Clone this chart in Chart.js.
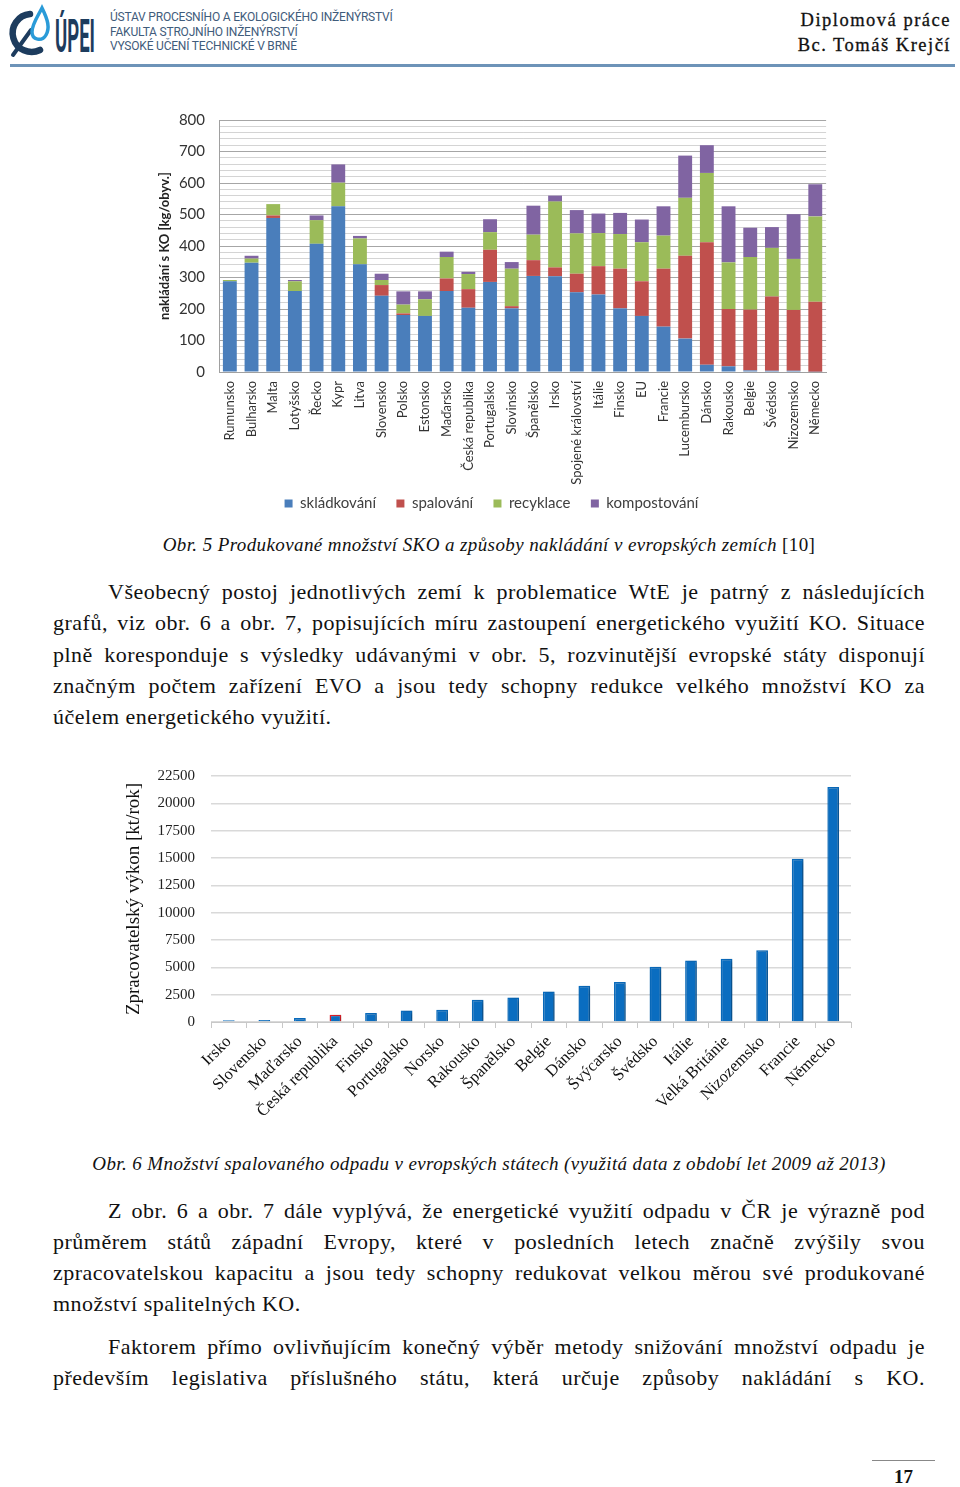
<!DOCTYPE html>
<html lang="cs">
<head>
<meta charset="utf-8">
<title>Diplomová práce – str. 17</title>
<script src="https://cdn.jsdelivr.net/npm/chart.js@4.4.1/dist/chart.umd.min.js"></script>
<style>
  html, body { margin: 0; padding: 0; background: #fff; }
  body { width: 960px; height: 1487px; position: relative; overflow: hidden; font-family: 'Liberation Serif', serif; color: #111; }
  .abs { position: absolute; }
  .hdr-l { left: 110px; font-family: 'Roboto', sans-serif; font-size: 12px; color: #3f5c7b; letter-spacing: -0.2px; line-height: 14px; }
  .hdr-r { right: 9px; font-size: 18.5px; letter-spacing: 1.5px; text-align: right; line-height: 22px; -webkit-text-stroke: 0.3px #111; }
  .line { left: 53px; width: 872px; height: 32px; line-height: 32px; font-size: 22px; letter-spacing: 0.5px; white-space: nowrap; text-align: justify; text-align-last: justify; }
  .line.ind { left: 108px; width: 817px; }
  .line.last { text-align: left; text-align-last: left; }
  .cap { left: 0; width: 978px; text-align: center; font-size: 19px; letter-spacing: 0.4px; font-style: italic; line-height: 22px; white-space: nowrap; }
  .cap span { font-style: normal; }
</style>
</head>
<body>

<!-- header -->
<svg class="abs" style="left:0;top:0" width="100" height="64">
  <path d="M30 14 A19 19 0 1 0 40 50" fill="none" stroke="#1d3c5e" stroke-width="6.5" stroke-linecap="round"/>
  <path d="M13 55 L31 30" fill="none" stroke="#1d3c5e" stroke-width="4" stroke-linecap="round"/>
  <path d="M42 8 C48 20 50 28 46 35 C42 42 32 40 32 32 C32 24 38 16 42 8 Z" fill="none" stroke="#2a9bd8" stroke-width="3.5"/>
  <text x="55" y="52" font-family="Roboto" font-weight="700" font-size="46" fill="#1d3c5e" textLength="40" lengthAdjust="spacingAndGlyphs">ÚPEI</text>
</svg>
<div class="abs hdr-l" style="top:10px">ÚSTAV PROCESNÍHO A EKOLOGICKÉHO INŽENÝRSTVÍ</div>
<div class="abs hdr-l" style="top:25px">FAKULTA STROJNÍHO INŽENÝRSTVÍ</div>
<div class="abs hdr-l" style="top:39px">VYSOKÉ UČENÍ TECHNICKÉ V BRNĚ</div>
<div class="abs hdr-r" style="top:9px">Diplomová práce</div>
<div class="abs hdr-r" style="top:34px">Bc. Tomáš Krejčí</div>
<div class="abs" style="left:10px;top:64px;width:945px;height:3px;background:#6d93b8"></div>

<!-- chart 1 -->
<div class="abs" style="left:150px;top:97px;width:690px;height:424px">
  <canvas id="chart1"></canvas>
</div>
<div class="abs cap" style="top:534px">Obr. 5 Produkované množství SKO a způsoby nakládání v evropských zemích <span>[10]</span></div>

<div class="abs line ind" style="top:576px">Všeobecný postoj jednotlivých zemí k problematice WtE je patrný z následujících</div>
<div class="abs line" style="top:607px">grafů, viz obr. 6 a obr. 7, popisujících míru zastoupení energetického využití KO. Situace</div>
<div class="abs line" style="top:639px">plně koresponduje s výsledky udávanými v obr. 5, rozvinutější evropské státy disponují</div>
<div class="abs line" style="top:670px">značným počtem zařízení EVO a jsou tedy schopny redukce velkého množství KO za</div>
<div class="abs line last" style="top:701px">účelem energetického využití.</div>

<!-- chart 2 -->
<div class="abs" style="left:110px;top:751px;width:760px;height:389px">
  <canvas id="chart2"></canvas>
</div>
<div class="abs cap" style="top:1153px">Obr. 6 Množství spalovaného odpadu v evropských státech (využitá data z období let 2009 až 2013)</div>

<div class="abs line ind" style="top:1195px">Z obr. 6 a obr. 7 dále vyplývá, že energetické využití odpadu v ČR je výrazně pod</div>
<div class="abs line" style="top:1226px">průměrem států západní Evropy, které v posledních letech značně zvýšily svou</div>
<div class="abs line" style="top:1257px">zpracovatelskou kapacitu a jsou tedy schopny redukovat velkou měrou své produkované</div>
<div class="abs line last" style="top:1288px">množství spalitelných KO.</div>

<div class="abs line ind" style="top:1331px">Faktorem přímo ovlivňujícím konečný výběr metody snižování množství odpadu je</div>
<div class="abs line" style="top:1362px">především legislativa příslušného státu, která určuje způsoby nakládání s KO.</div>

<!-- footer -->
<div class="abs" style="left:872px;top:1460px;width:63px;height:1px;background:#888"></div>
<div class="abs" style="left:872px;top:1466px;width:63px;text-align:center;font-weight:bold;font-size:19px">17</div>

<script>
'use strict';

// chart 1: produced municipal waste and treatment [kg/inhabitant]
const countries1 = ['Rumunsko', 'Bulharsko', 'Malta', 'Lotyšsko', 'Řecko', 'Kypr', 'Litva', 'Slovensko',
  'Polsko', 'Estonsko', 'Maďarsko', 'Česká republika', 'Portugalsko', 'Slovinsko', 'Španělsko', 'Irsko',
  'Spojené království', 'Itálie', 'Finsko', 'EU', 'Francie', 'Lucembursko', 'Dánsko', 'Rakousko',
  'Belgie', 'Švédsko', 'Nizozemsko', 'Německo'];
const landfill = [288, 347, 489, 257, 407, 526, 342, 242, 181, 178, 257, 204, 286, 202, 305, 304,
  253, 246, 202, 178, 144, 106, 23, 18, 5, 4, 4, 1];
const incineration = [0, 0, 8, 0, 0, 0, 0, 34, 5, 0, 40, 59, 102, 7, 50, 28,
  59, 90, 126, 110, 184, 263, 389, 182, 193, 236, 193, 222];
const recycling = [4, 13, 36, 31, 75, 75, 82, 16, 28, 53, 68, 48, 56, 119, 81, 209,
  128, 105, 110, 124, 105, 184, 220, 148, 167, 154, 162, 271];
const composting = [0, 9, 0, 4, 15, 58, 8, 20, 42, 25, 17, 7, 41, 21, 92, 19,
  74, 62, 67, 72, 93, 134, 88, 178, 93, 66, 142, 102];
const seriesNames1 = ['skládkování', 'spalování', 'recyklace', 'kompostování'];
const seriesColors1 = ['#4a7ebb', '#c0504d', '#9bbb59', '#8064a2'];

// chart 2: incineration capacity [kt/year]
const countries2 = ['Irsko', 'Slovensko', 'Maďarsko', 'Česká republika', 'Finsko', 'Portugalsko',
  'Norsko', 'Rakousko', 'Španělsko', 'Belgie', 'Dánsko', 'Švýcarsko', 'Švédsko', 'Itálie',
  'Velká Británie', 'Nizozemsko', 'Francie', 'Německo'];
const capacity = [150, 180, 365, 670, 820, 1060, 1125, 2040, 2250, 2800, 3310, 3650, 5050, 5620,
  5780, 6570, 14930, 21500];

const sans = 'Lato, "Liberation Sans", sans-serif';
const serif = '"Liberation Serif", serif';

const data1 = [landfill, incineration, recycling, composting];
const datasets1 = [];
for (let i = 0; i < data1.length; i++) {
  datasets1.push({
    label: seriesNames1[i],
    data: data1[i],
    backgroundColor: seriesColors1[i],
    barPercentage: 0.64,
    categoryPercentage: 1
  });
}

// extra gap between legend items without making the legend taller
function spacedLabels(chart) {
  const items = Chart.defaults.plugins.legend.labels.generateLabels(chart);
  for (let i = 0; i < items.length - 1; i++) {
    items[i].text = items[i].text + '    ';
  }
  return items;
}

new Chart(document.getElementById('chart1'), {
  type: 'bar',
  data: { labels: countries1, datasets: datasets1 },
  options: {
    animation: false,
    responsive: true,
    maintainAspectRatio: false,
    layout: { padding: { top: 18, right: 7, left: 0, bottom: 0 } },
    plugins: {
      tooltip: { enabled: false },
      legend: {
        position: 'bottom',
        labels: { boxWidth: 8, boxHeight: 8, padding: 5, color: '#404040',
          font: { family: sans, size: 15 }, generateLabels: spacedLabels }
      }
    },
    scales: {
      x: {
        stacked: true,
        grid: { display: false, drawTicks: false },
        border: { color: '#a0a0a0' },
        ticks: { minRotation: 90, maxRotation: 90, autoSkip: false, padding: 9, color: '#333',
          font: { family: sans, size: 13 } },
        afterFit: (scale) => { scale.height = 119; }
      },
      y: {
        stacked: true,
        min: 0,
        max: 800,
        border: { color: '#a0a0a0' },
        grid: {
          drawTicks: false,
          color: (ctx) => (ctx.tick && ctx.tick.value % 100 === 0) ? '#a6a6a6' : '#d4d4d4'
        },
        ticks: {
          stepSize: 20,
          autoSkip: false,
          padding: 14,
          color: '#333',
          font: { family: sans, size: 15 },
          callback: (v) => (v % 100 === 0 ? v : '')
        },
        title: { display: true, text: 'nakládání s KO [kg/obyv.]', color: '#222',
          padding: { top: 7, bottom: 0 }, font: { family: sans, size: 13, weight: 'bold' } },
        afterFit: (scale) => { scale.width = 69; }
      }
    }
  }
});

const barShadow = {
  id: 'barShadow',
  beforeDatasetsDraw(chart) {
    const ctx = chart.ctx;
    ctx.save();
    ctx.shadowColor = 'rgba(0,0,0,0.35)';
    ctx.shadowBlur = 4;
    ctx.shadowOffsetX = 2;
    ctx.shadowOffsetY = 1;
  },
  afterDatasetsDraw(chart) {
    chart.ctx.restore();
  }
};

new Chart(document.getElementById('chart2'), {
  type: 'bar',
  data: {
    labels: countries2,
    datasets: [{
      data: capacity,
      backgroundColor: '#0a6dc0',
      borderColor: countries2.map(c => c === 'Česká republika' ? '#e0202a' : '#0a6dc0'),
      borderWidth: 1.5,
      barPercentage: 0.33,
      categoryPercentage: 1
    }]
  },
  plugins: [barShadow],
  options: {
    animation: false,
    responsive: true,
    maintainAspectRatio: false,
    layout: { padding: { top: 7, right: 19, left: 0, bottom: 0 } },
    plugins: { legend: { display: false }, tooltip: { enabled: false } },
    scales: {
      x: {
        grid: { offset: true, drawOnChartArea: false, drawTicks: true, tickLength: 6, color: '#c8c8c8' },
        border: { color: '#c8c8c8' },
        ticks: { minRotation: 45, maxRotation: 45, autoSkip: false, padding: 4, color: '#111',
          font: { family: serif, size: 16.5 } },
        afterFit: (scale) => { scale.height = 118; }
      },
      y: {
        min: 0,
        max: 22500,
        border: { display: false },
        grid: { drawTicks: false, color: '#d9d9d9', lineWidth: 1.5 },
        ticks: { stepSize: 2500, padding: 16, color: '#222', font: { family: serif, size: 15 },
          callback: (v) => String(v) },
        title: { display: true, text: 'Zpracovatelský výkon [kt/rok]', color: '#111',
          padding: { top: 13, bottom: 0 }, font: { family: serif, size: 19 } },
        afterFit: (scale) => { scale.width = 101; }
      }
    }
  }
});
</script>
</body>
</html>
